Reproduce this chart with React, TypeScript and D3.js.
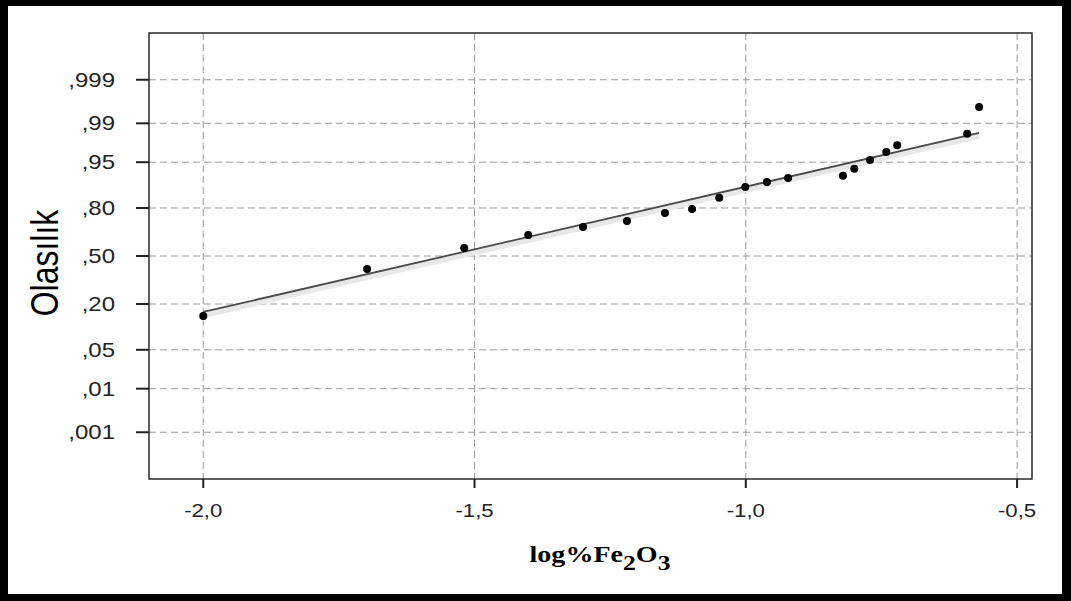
import React from 'react';
import * as d3 from 'd3';

// observed values (log%Fe2O3) and their cumulative probabilities
const xValues = [-2.0, -1.698, -1.519, -1.401, -1.3, -1.219, -1.149, -1.099, -1.049, -1.001,
    -0.961, -0.922, -0.821, -0.8, -0.771, -0.741, -0.721, -0.592, -0.57];
const probValues = [0.146, 0.41, 0.556, 0.644, 0.695, 0.73, 0.775, 0.795, 0.846, 0.887,
    0.903, 0.914, 0.92, 0.937, 0.954, 0.966, 0.974, 0.984, 0.9955];

// fitted normal line
const fitMean = -1.553;
const fitSd = 0.4554;

const yTickValues = [0.999, 0.99, 0.95, 0.8, 0.5, 0.2, 0.05, 0.01, 0.001];
const yTickLabels = [',999', ',99', ',95', ',80', ',50', ',20', ',05', ',01', ',001'];
const xTickValues = [-2.0, -1.5, -1.0, -0.5];
const xTickLabels = ['-2,0', '-1,5', '-1,0', '-0,5'];

const yTitle = 'Olasılık';

// inverse of the normal cdf (Acklam)
const probit = (p: number) => {
    const a = [-39.69683028665376, 220.9460984245205, -275.9285104469687, 138.357751867269, -30.66479806614716, 2.506628277459239];
    const b = [-54.47609879822406, 161.5858368580409, -155.6989798598866, 66.80131188771972, -13.28068155288572];
    const c = [-0.007784894002430293, -0.3223964580411365, -2.400758277161838, -2.549732539343734, 4.374664141464968, 2.938163982698783];
    const d = [0.007784695709041462, 0.3224671290700398, 2.445134137142996, 3.754408661907416];
    const pl = 0.02425;
    if (p < pl) {
        const q = Math.sqrt(-2 * Math.log(p));
        return (((((c[0] * q + c[1]) * q + c[2]) * q + c[3]) * q + c[4]) * q + c[5]) /
            ((((d[0] * q + d[1]) * q + d[2]) * q + d[3]) * q + 1);
    }
    if (p > 1 - pl) {
        const q = Math.sqrt(-2 * Math.log(1 - p));
        return -(((((c[0] * q + c[1]) * q + c[2]) * q + c[3]) * q + c[4]) * q + c[5]) /
            ((((d[0] * q + d[1]) * q + d[2]) * q + d[3]) * q + 1);
    }
    const q = p - 0.5;
    const r = q * q;
    return (((((a[0] * r + a[1]) * r + a[2]) * r + a[3]) * r + a[4]) * r + a[5]) * q /
        (((((b[0] * r + b[1]) * r + b[2]) * r + b[3]) * r + b[4]) * r + 1);
};

export default function App() {
    const width = 1071;
    const height = 601;
    const left = 149, right = 1032, top = 33, bottom = 479;

    const x = d3.scaleLinear().domain([-2.1, -0.4725]).range([left, right]);
    const y = d3.scaleLinear().domain([-3.91, 3.91]).range([bottom, top]);

    const points = xValues.map((v, i) => [v, probit(probValues[i])] as [number, number]);
    const [xMin, xMax] = d3.extent(xValues) as [number, number];
    const fit: [number, number][] = [xMin, xMax].map((v) => [v, (v - fitMean) / fitSd]);

    const line = d3.line<[number, number]>()
        .x((d) => x(d[0]))
        .y((d) => y(d[1]));

    const grid = '#9a9a9a';

    return (
        <div style={{ position: 'absolute', left: 0, top: 0 }}>
            <svg width={width} height={height} style={{ display: 'block' }}>
                <rect x={0} y={0} width={width} height={height} fill="#000" />
                <rect x={8} y={6} width={width - 17} height={height - 13} fill="#fff" />

                {/* grid */}
                <g stroke={grid} strokeWidth={1} strokeDasharray="7,4">
                    {yTickValues.map((p) => (
                        <line key={'gy' + p} x1={left} x2={right} y1={y(probit(p))} y2={y(probit(p))} />
                    ))}
                    {xTickValues.map((v) => (
                        <line key={'gx' + v} x1={x(v)} x2={x(v)} y1={top} y2={bottom} />
                    ))}
                </g>

                {/* fit line */}
                <path d={line(fit) || ''} fill="none" stroke="#e8e8e8" strokeWidth={6} transform="translate(0,3)" />
                <path d={line(fit) || ''} fill="none" stroke="#4a4a4a" strokeWidth={1.8} />

                {/* points */}
                <g fill="#000">
                    {points.map((d, i) => (
                        <circle key={i} cx={x(d[0])} cy={y(d[1])} r={4} />
                    ))}
                </g>

                {/* frame */}
                <rect x={left} y={top} width={right - left} height={bottom - top} fill="none" stroke="#2a2a2a" strokeWidth={1.5} />

                {/* y axis */}
                <g fontFamily="Arial, 'Liberation Sans', sans-serif" fontSize={20} fill="#222">
                    {yTickValues.map((p, i) => (
                        <g key={'yt' + p}>
                            <line x1={136} x2={left} y1={y(probit(p))} y2={y(probit(p))} stroke="#222" strokeWidth={2} />
                            <text transform={`translate(115,${y(probit(p))}) scale(1.2,1)`} textAnchor="end" dy="0.35em">
                                {yTickLabels[i]}
                            </text>
                        </g>
                    ))}
                </g>

                {/* x axis */}
                <g fontFamily="Arial, 'Liberation Sans', sans-serif" fontSize={18.5} fill="#222">
                    {xTickValues.map((v, i) => (
                        <g key={'xt' + v}>
                            <line x1={x(v)} x2={x(v)} y1={bottom} y2={488} stroke="#222" strokeWidth={2} />
                            <text transform={`translate(${x(v)},517) scale(1.2,1)`} textAnchor="middle">
                                {xTickLabels[i]}
                            </text>
                        </g>
                    ))}
                </g>

                {/* titles */}
                <text transform="translate(58,263) scale(1.2,1) rotate(-90)" textAnchor="middle"
                    fontFamily="Arial, 'Liberation Sans', sans-serif" fontSize={32} fill="#000">
                    {yTitle}
                </text>
                <text transform="translate(600,562) scale(1.22,1)" textAnchor="middle"
                    fontFamily="'Times New Roman', 'Liberation Serif', serif" fontWeight="bold" fontSize={23} fill="#000">
                    log%Fe<tspan fontSize={21} dy={8}>2</tspan><tspan dy={-8}>O</tspan><tspan fontSize={21} dy={8}>3</tspan>
                </text>
            </svg>
        </div>
    );
}
